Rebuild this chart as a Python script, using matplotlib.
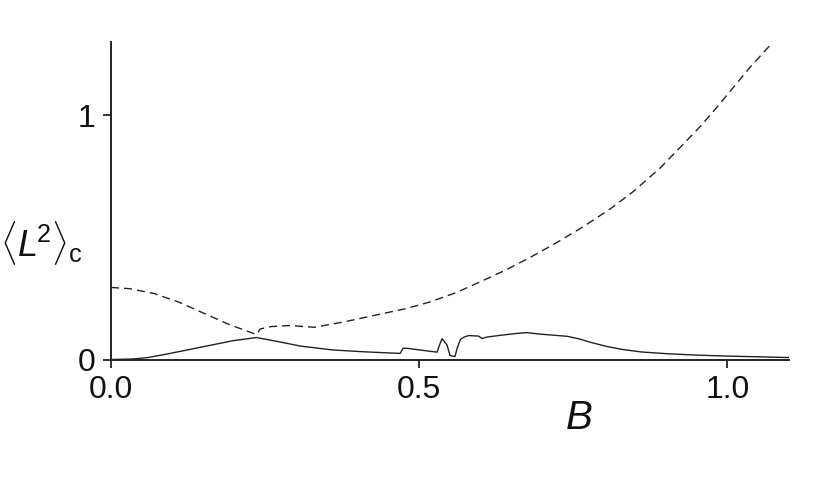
import matplotlib.pyplot as plt

plt.rcParams["font.family"] = ["Liberation Sans", "DejaVu Sans"]
plt.rcParams["mathtext.fontset"] = "custom"
plt.rcParams["mathtext.rm"] = "Liberation Sans"
plt.rcParams["mathtext.it"] = "Liberation Sans:italic"

#%% Data
b_dashed = [0.0, 0.03, 0.07, 0.11, 0.15, 0.19, 0.236, 0.242, 0.26, 0.29, 0.33,
            0.38, 0.437, 0.478, 0.518, 0.56, 0.599, 0.64, 0.68, 0.72, 0.767,
            0.81, 0.847, 0.89, 0.929, 0.957, 0.983, 1.01, 1.037, 1.068]
l2_dashed = [0.295, 0.29, 0.27, 0.235, 0.19, 0.145, 0.102, 0.125, 0.135, 0.139, 0.132,
             0.155, 0.186, 0.208, 0.236, 0.274, 0.318, 0.366, 0.418, 0.474, 0.545,
             0.617, 0.687, 0.782, 0.883, 0.957, 1.033, 1.115, 1.197, 1.283]

b_solid = [0.0, 0.036, 0.06, 0.09, 0.145, 0.198, 0.236, 0.28, 0.307, 0.36, 0.415, 0.469,
           0.474, 0.48, 0.529, 0.533, 0.537, 0.545, 0.55, 0.558, 0.562, 0.567, 0.573,
           0.58, 0.596, 0.602, 0.61, 0.635, 0.659, 0.675, 0.696, 0.74, 0.76, 0.78,
           0.805, 0.83, 0.86, 0.9, 0.95, 1.0, 1.05, 1.1]
l2_solid = [0.0, 0.002, 0.008, 0.022, 0.05, 0.077, 0.09, 0.069, 0.055, 0.039, 0.031, 0.025,
            0.046, 0.046, 0.03, 0.06, 0.085, 0.06, 0.016, 0.012, 0.05, 0.082, 0.092,
            0.098, 0.096, 0.086, 0.092, 0.1, 0.107, 0.11, 0.104, 0.095, 0.084, 0.069,
            0.053, 0.041, 0.031, 0.024, 0.018, 0.014, 0.011, 0.008]

x_ticks = [0.0, 0.5, 1.0]
x_ticklabels = ["0.0", "0.5", "1.0"]
y_ticks = [0, 1]
y_ticklabels = ["0", "1"]

#%% Plot
ink = "#222222"
fig = plt.figure(figsize=(8.31, 4.87), dpi=100)
ax = fig.add_axes([0.1336, 0.2618, 0.8159, 0.652])

ax.plot(b_dashed, l2_dashed, color=ink, lw=1.0, dashes=(5.8, 3.6))
ax.plot(b_solid, l2_solid, color=ink, lw=1.0)

ax.set_xlim(0, 1.1)
ax.set_ylim(0, 1.3)
ax.spines["top"].set_visible(False)
ax.spines["right"].set_visible(False)
for s in ("left", "bottom"):
    ax.spines[s].set_linewidth(1.4)
    ax.spines[s].set_color(ink)

ax.set_xticks(x_ticks, x_ticklabels)
ax.set_yticks(y_ticks, y_ticklabels)
ax.tick_params(direction="out", length=6, width=1.3, color=ink,
               labelsize=23, labelcolor="#111111", pad=5)

fig.text(579 / 831, 1 - 418 / 487, "B", fontsize=29, style="italic",
         ha="center", va="center", color="#111111")
fig.text(0.0, 1 - 243 / 487, r"$\langle L^{\!2}\rangle_{\mathrm{c}}$", fontsize=26,
         ha="left", va="center", color="#111111")

fig.savefig("out.png", dpi=100)
